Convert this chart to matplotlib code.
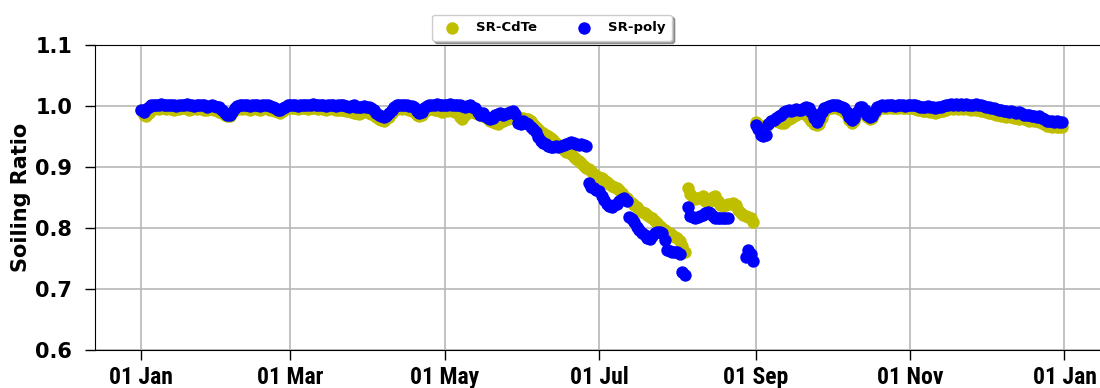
import numpy as np
import matplotlib
matplotlib.use("Agg")
import matplotlib.pyplot as plt
import matplotlib.dates as mdates
from matplotlib import font_manager

nan = None
# Daily soiling ratios (x1000), one list per month, year 2019
poly_jan = [993, 990, 995, 999, 1001, 1002, 1001, 1002, 1003, 1002, 1001, 1002, 1002, 1001, 1000, 1002, 1001, 1002, 1003, 1002, 1001, 1000, 1001, 1002, 1002, 1001, 999, 1000, 1001, 1000, 999]
cdte_jan = [994, 986, 983, 988, 993, 995, 996, 995, 997, 996, 995, 996, 995, 994, 996, 995, 996, 997, 996, 994, 995, 996, 995, 996, 995, 994, 993, 995, 996, 994, 993]
poly_feb = [998, 993, 988, 985, 986, 990, 996, 1000, 1002, 1001, 1002, 1001, 1000, 1001, 1002, 1001, 1000, 1001, 1002, 1001, 1000, 999, 997, 994, 993, 996, 999, 1001]
cdte_feb = [990, 988, 985, 983, 984, 988, 993, 995, 996, 995, 996, 995, 994, 995, 996, 995, 994, 995, 996, 995, 994, 993, 991, 990, 989, 992, 995, 996]
poly_mar = [1001, 1002, 1001, 1000, 1001, 1002, 1002, 1001, 1002, 1003, 1002, 1001, 1002, 1001, 1000, 1001, 1002, 1001, 1000, 1001, 1002, 1001, 1000, 999, 1000, 1001, 999, 998, 999, 1000, 999]
cdte_mar = [996, 997, 996, 995, 996, 997, 996, 995, 996, 997, 996, 995, 996, 995, 994, 995, 996, 995, 994, 993, 994, 993, 992, 991, 990, 989, 988, 987, 988, 990, 991]
poly_apr = [998, 996, 993, 989, 985, 983, 982, 984, 988, 994, 999, 1001, 1002, 1001, 1002, 1001, 1000, 1000, 998, 992, 988, 990, 996, 1000, 1002, 1001, 1002, 1003, 1002, 1001]
cdte_apr = [989, 987, 985, 982, 979, 977, 976, 978, 982, 988, 993, 995, 996, 995, 996, 995, 994, 993, 990, 986, 983, 985, 990, 994, 996, 995, 994, 993, 992, 990]
poly_may = [1001, 1002, 1003, 1002, 1001, 1002, 1001, 1000, 999, 1000, 1001, 999, 996, 990, 986, 988, 984, 980, 979, 981, 985, 987, 988, 986, 987, 989, 990, 991, 987, 972, 970]
cdte_may = [993, 992, 993, 991, 990, 988, 982, 979, 986, 990, 991, 990, 988, 987, 985, 984, 982, 979, 976, 973, 972, 971, 973, 975, 977, 979, 980, 982, 981, 980, 980]
poly_jun = [975, 972, 971, 966, 962, 957, 949, 942, 940, 937, 934, 933, 932, 934, 933, 935, 936, 937, 939, 941, 940, 938, 936, 937, 936, 935, 874, 868, 865, 862]
cdte_jun = [980, 978, 978, 975, 970, 966, 962, 958, 955, 953, 951, 948, 944, 940, 936, 932, 928, 925, 924, 921, 917, 913, 910, 906, 902, 899, 896, 893, 889, 886]
poly_jul = [860, 852, 846, 840, 836, 834, 837, 840, 844, 848, 850, 845, 818, 815, 810, 802, 797, 792, 788, 784, 782, 787, 791, 793, 794, 792, 780, 764, 762, 760, 761]
cdte_jul = [884, 882, 879, 876, 872, 869, 867, 866, 862, 858, 853, 849, 845, 841, 837, 834, 830, 827, 824, 821, 818, 816, 812, 808, 804, 800, 797, 793, 791, 789, 786]
poly_aug = [760, 758, 728, 723, 834, 820, 818, 817, 818, 820, 822, 824, 826, 825, 820, 817, 816, 817, 816, 817, 816, nan, nan, nan, nan, nan, nan, 752, 764, 757, 746]
cdte_aug = [784, 778, 770, 760, 866, 856, 851, 848, 850, 849, 852, 845, 841, 845, 851, 853, 845, 838, 836, 837, 839, 840, 841, 838, 830, 824, 822, 820, 818, 816, 810]
poly_sep = [969, 962, 953, 951, 953, 970, 975, 977, 980, 983, 986, 990, 992, 993, 992, 994, 995, 994, 993, 996, 998, 997, 990, 980, 974, 980, 990, 996, 999, 1000]
cdte_sep = [974, 970, 965, 962, 965, 970, 975, 977, 976, 974, 972, 972, 975, 978, 981, 984, 986, 988, 989, 988, 985, 980, 975, 971, 969, 970, 980, 990, 995, 997]
poly_oct = [1001, 1002, 1001, 1000, 999, 996, 990, 982, 977, 980, 990, 998, 999, 993, 986, 982, 984, 992, 998, 1000, 1001, 1000, 1001, 1002, 1001, 1000, 1001, 1002, 1001, 1000, 1001]
cdte_oct = [997, 998, 997, 995, 993, 990, 985, 977, 972, 975, 985, 993, 995, 990, 982, 978, 980, 988, 994, 996, 997, 996, 997, 998, 997, 996, 997, 998, 997, 996, 997]
poly_nov = [1001, 1002, 1001, 1000, 999, 998, 999, 1000, 999, 998, 997, 998, 999, 1000, 1001, 1002, 1003, 1002, 1003, 1002, 1003, 1002, 1003, 1002, 1001, 1002, 1003, 1002, 1001, 1000]
cdte_nov = [996, 997, 995, 994, 993, 992, 991, 992, 990, 991, 989, 990, 991, 992, 994, 995, 996, 995, 996, 995, 996, 995, 996, 995, 994, 995, 994, 993, 992, 991]
poly_dec = [999, 998, 997, 996, 995, 994, 993, 992, 991, 990, 991, 990, 989, 990, 988, 986, 985, 986, 984, 983, 982, 983, 981, 978, 976, 975, 976, 974, 975, 974, 973]
cdte_dec = [990, 989, 988, 987, 986, 985, 984, 983, 982, 983, 982, 981, 980, 979, 980, 978, 977, 976, 977, 975, 975, 974, 972, 970, 968, 967, 966, 967, 965, 966, 965]

poly = np.array(poly_jan + poly_feb + poly_mar + poly_apr + poly_may + poly_jun +
                poly_jul + poly_aug + poly_sep + poly_oct + poly_nov + poly_dec, dtype=float) / 1000
cdte = np.array(cdte_jan + cdte_feb + cdte_mar + cdte_apr + cdte_may + cdte_jun +
                cdte_jul + cdte_aug + cdte_sep + cdte_oct + cdte_nov + cdte_dec, dtype=float) / 1000
dates = np.arange(np.datetime64('2019-01-01'), np.datetime64('2020-01-01'), np.timedelta64(1, 'D'))

# pick a condensed bold face for the date labels if one is installed
names = {f.name for f in font_manager.fontManager.ttflist}
cond_family = ['DejaVu Sans']
for cand in ['DejaVu Sans Condensed', 'Liberation Sans Narrow', 'Roboto Condensed', 'Open Sans Condensed']:
    if cand in names:
        cond_family = [cand, 'DejaVu Sans']
        break

fig = plt.figure(figsize=(11, 3.88), dpi=100)
ax = fig.add_axes([95/1100, 38/388, (1108-95)/1100, (350-45)/388])

ax.scatter(dates, cdte, s=80, c='y', linewidths=0, label='SR-CdTe', zorder=3)
ax.scatter(dates, poly, s=80, c='b', linewidths=0, label='SR-poly', zorder=3)

ax.set_ylim(0.6, 1.1)
ax.set_yticks([0.6, 0.7, 0.8, 0.9, 1.0, 1.1])
ax.xaxis.set_major_locator(mdates.MonthLocator(bymonth=[1, 3, 5, 7, 9, 11]))
ax.xaxis.set_major_formatter(mdates.DateFormatter('%d %b'))
ax.grid(True, color='#b8b8b8', linewidth=1.2, zorder=0)
ax.set_axisbelow(True)
ax.tick_params(axis='both', direction='out', length=7.5, width=1)
ax.tick_params(axis='y', pad=9)
ax.tick_params(axis='x', pad=4)
for lab in ax.get_yticklabels():
    lab.set_fontweight('bold')
    lab.set_fontsize(15)
for lab in ax.get_xticklabels():
    lab.set_family(cond_family)
    lab.set_fontweight('bold')
    lab.set_fontsize(17 if cond_family[0] != 'DejaVu Sans' else 14)
    lab.set_fontstretch('condensed')
ax.set_ylabel('Soiling Ratio', fontsize=15, fontweight='bold', labelpad=3)

fig.legend(loc='upper center', bbox_to_anchor=(552/1100, 1 - 8/388), ncol=2,
           shadow=True, fancybox=True, prop=dict(weight='bold', size=9.5),
           handletextpad=0.8, columnspacing=2.6, borderpad=0.5, markerscale=1.0)

fig.savefig('out.png', dpi=100)
